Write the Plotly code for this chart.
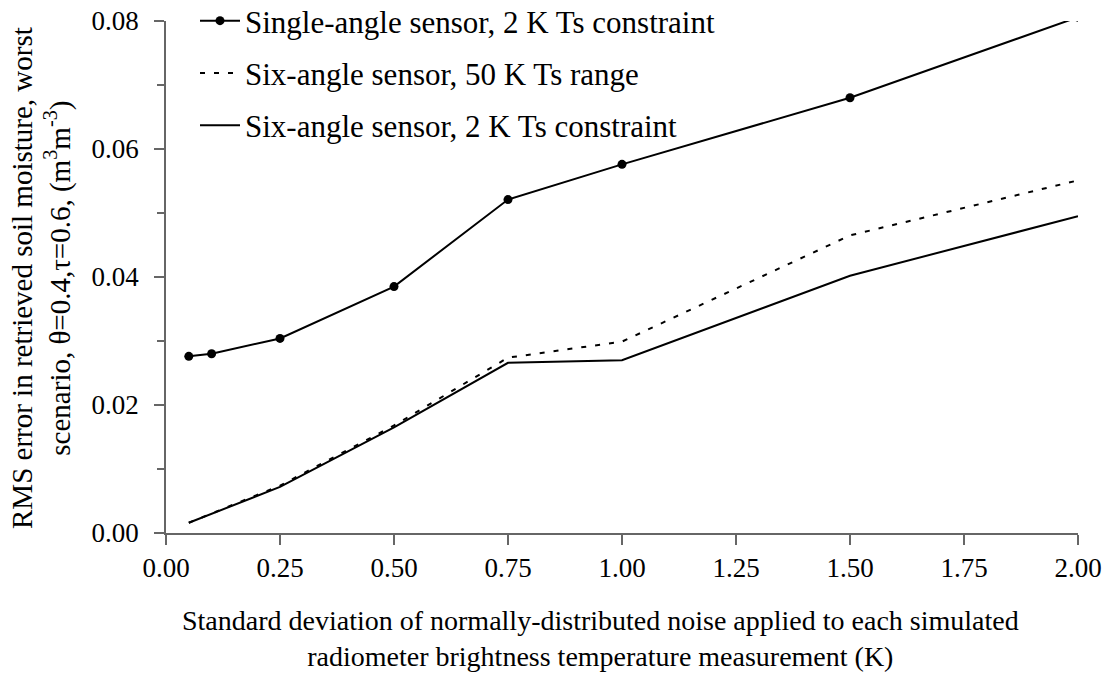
import plotly.graph_objects as go

noise_single = [0.05, 0.10, 0.25, 0.50, 0.75, 1.00, 1.50, 2.00]
rms_single_2k = [0.0276, 0.0280, 0.0304, 0.0385, 0.0521, 0.0576, 0.0680, 0.0806]

noise_six = [0.05, 0.25, 0.50, 0.75, 1.00, 1.50, 2.00]
rms_six_50k = [0.0016, 0.0074, 0.0168, 0.0274, 0.0299, 0.0465, 0.0551]
rms_six_2k = [0.0016, 0.0072, 0.0165, 0.0266, 0.0270, 0.0402, 0.0495]

x_ticks = [0.0, 0.25, 0.5, 0.75, 1.0, 1.25, 1.5, 1.75, 2.0]
x_tick_labels = ["0.00", "0.25", "0.50", "0.75", "1.00", "1.25", "1.50", "1.75", "2.00"]
y_ticks = [0.0, 0.02, 0.04, 0.06, 0.08]
y_tick_labels = ["0.00", "0.02", "0.04", "0.06", "0.08"]

names = ["Single-angle sensor, 2 K Ts constraint",
         "Six-angle sensor, 50 K Ts range",
         "Six-angle sensor, 2 K Ts constraint"]

FONT = "'Liberation Serif', 'Times New Roman', Times, serif"

fig = go.Figure()
fig.add_trace(go.Scatter(x=noise_single, y=rms_single_2k, mode="lines+markers",
                         name=names[0], legendgroup="a",
                         line=dict(color="black", width=2),
                         marker=dict(color="black", size=9)))
fig.add_trace(go.Scatter(x=noise_six, y=rms_six_50k, mode="lines",
                         name=names[1], legendgroup="b",
                         line=dict(color="black", width=2, dash="5px,9px")))
fig.add_trace(go.Scatter(x=noise_six, y=rms_six_2k, mode="lines",
                         name=names[2], legendgroup="c",
                         line=dict(color="black", width=2)))

fig.update_layout(
    width=1112, height=675,
    margin=dict(l=166, r=34, t=21, b=142, autoexpand=False),
    paper_bgcolor="white", plot_bgcolor="white",
    font=dict(family=FONT, color="black", size=27),
    showlegend=True,
    legend=dict(x=0.0318, y=1.0527, xanchor="left", yanchor="top",
                bgcolor="rgba(0,0,0,0)", font=dict(size=31, family=FONT),
                tracegroupgap=9, itemwidth=40, traceorder="grouped"),
    xaxis=dict(range=[0, 2], tickvals=x_ticks, ticktext=x_tick_labels,
               showgrid=False, zeroline=False, showline=True, automargin=False,
               linecolor="#666666", linewidth=1.5, ticklabeloverflow="allow",
               ticks="outside", ticklen=10, tickcolor="#666666", tickwidth=1.5,
               tickfont=dict(size=27, family=FONT)),
    yaxis=dict(range=[0, 0.08], tickvals=y_ticks, ticktext=y_tick_labels,
               showgrid=False, zeroline=False, showline=True, automargin=False,
               linecolor="#666666", linewidth=1.5, ticklabeloverflow="allow",
               ticks="outside", ticklen=10, tickcolor="#666666", tickwidth=1.5,
               ticklabelstandoff=10,
               tickfont=dict(size=27, family=FONT),
               minor=dict(dtick=0.01, ticks="outside", ticklen=7,
                          tickcolor="#666666", tickwidth=1.5, showgrid=False)),
)

fig.add_annotation(
    text="RMS error in retrieved soil moisture, worst<br>"
         "scenario, θ=0.4,τ=0.6, (m<sup>3</sup>m<sup>-3</sup>)",
    xref="paper", yref="paper", x=-0.1371, y=0.498, textangle=-90,
    xanchor="center", yanchor="middle", showarrow=False,
    font=dict(size=29, family=FONT, color="black"))

fig.add_annotation(
    text="Standard deviation of normally-distributed noise applied to each simulated<br>"
         "radiometer brightness temperature measurement (K)",
    xref="paper", yref="paper", x=(600 - 166) / 912, y=-0.206,
    xanchor="center", yanchor="middle", showarrow=False,
    font=dict(size=28, family=FONT, color="black"))

# remove the browser's default 8px body margin so the figure fills the window
fig.write_html("out.html", config={"displayModeBar": False},
               post_script="document.body.style.margin='0';")
